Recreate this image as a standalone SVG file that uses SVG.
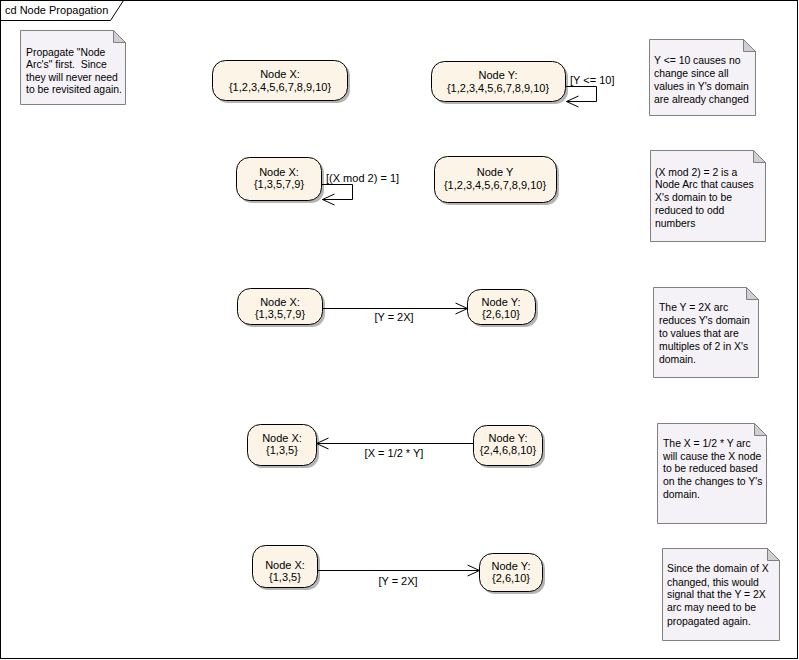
<svg xmlns="http://www.w3.org/2000/svg" width="799" height="660" viewBox="0 0 799 660">
<defs>
<style>
text{font-family:"Liberation Sans",Arial,sans-serif;font-size:11px;fill:#000;white-space:pre}
.c{text-anchor:middle}
.nt text{font-size:10.4px}
.node{fill:#FBF4E7;stroke:#000;stroke-width:1}
.shadow{fill:#B4B4B4}
.note{fill:#F4F2F6;stroke:#808080;stroke-width:1}
.fold{fill:#D0CED2;stroke:#808080;stroke-width:1}
.conn{fill:none;stroke:#000;stroke-width:1}
</style>
<marker id="arr" markerUnits="userSpaceOnUse" markerWidth="14" markerHeight="12" refX="12" refY="5.5" orient="auto" overflow="visible">
<path d="M0,0 L12,5.5 L0,11" fill="none" stroke="#000" stroke-width="1"/>
</marker>
</defs>
<rect width="799" height="660" fill="#fff"/>
<g id="frame">
<rect x="0.5" y="0.5" width="797" height="658" fill="none" stroke="#000"/>
<path d="M0.5,20.5 H110.5 L123.5,0.5" fill="none" stroke="#000"/>
<text x="5" y="14">cd Node Propagation</text>
</g>
<g id="note1" class="nt">
<path class="note" d="M20.5,30.5 H113.5 L125.5,42.5 V104.5 H20.5 Z"/>
<path class="fold" d="M113.5,30.5 V42.5 H125.5 Z"/>
<text x="26" y="56">Propagate "Node</text>
<text x="26" y="68">Arc's" first.  Since</text>
<text x="26" y="81">they will never need</text>
<text x="26" y="93">to be revisited again.</text>
</g>
<g id="note2" class="nt">
<path class="note" d="M649.5,39.5 H743.5 L755.5,51.5 V115.5 H649.5 Z"/>
<path class="fold" d="M743.5,39.5 V51.5 H755.5 Z"/>
<text x="654" y="64">Y &lt;= 10 causes no</text>
<text x="654" y="77">change since all</text>
<text x="654" y="90">values in Y's domain</text>
<text x="654" y="103">are already changed</text>
</g>
<g id="note3" class="nt">
<path class="note" d="M650.5,150.5 H753.5 L765.5,162.5 V241.5 H650.5 Z"/>
<path class="fold" d="M753.5,150.5 V162.5 H765.5 Z"/>
<text x="655" y="176">(X mod 2) = 2 is a</text>
<text x="655" y="188">Node Arc that causes</text>
<text x="655" y="201">X's domain to be</text>
<text x="655" y="214">reduced to odd</text>
<text x="655" y="227">numbers</text>
</g>
<g id="note4" class="nt">
<path class="note" d="M653.5,287.5 H746.5 L758.5,299.5 V377.5 H653.5 Z"/>
<path class="fold" d="M746.5,287.5 V299.5 H758.5 Z"/>
<text x="659" y="311">The Y = 2X arc</text>
<text x="659" y="324">reduces Y's domain</text>
<text x="659" y="337">to values that are</text>
<text x="659" y="350">multiples of 2 in X's</text>
<text x="659" y="363">domain.</text>
</g>
<g id="note5" class="nt">
<path class="note" d="M657.5,423.5 H754.5 L766.5,435.5 V523.5 H657.5 Z"/>
<path class="fold" d="M754.5,423.5 V435.5 H766.5 Z"/>
<text x="663" y="447">The X = 1/2 * Y arc</text>
<text x="663" y="460">will cause the X node</text>
<text x="663" y="472">to be reduced based</text>
<text x="663" y="485">on the changes to Y's</text>
<text x="663" y="498">domain.</text>
</g>
<g id="note6" class="nt">
<path class="note" d="M662.5,548.5 H767.5 L779.5,560.5 V640.5 H662.5 Z"/>
<path class="fold" d="M767.5,548.5 V560.5 H779.5 Z"/>
<text x="667" y="572">Since the domain of X</text>
<text x="667" y="586">changed, this would</text>
<text x="667" y="598">signal that the Y = 2X</text>
<text x="667" y="611">arc may need to be</text>
<text x="667" y="625">propagated again.</text>
</g>
<g id="nodeX1">
<rect class="shadow" x="215" y="63" width="135" height="40" rx="13"/>
<rect class="node" x="212.5" y="60.5" width="135" height="40" rx="13"/>
<text class="c" x="280" y="78">Node X:</text>
<text class="c" x="280" y="91">{1,2,3,4,5,6,7,8,9,10}</text>
</g>
<g id="nodeY1">
<rect class="shadow" x="434" y="64" width="134" height="40" rx="13"/>
<rect class="node" x="431.5" y="61.5" width="134" height="40" rx="13"/>
<text class="c" x="498" y="79">Node Y:</text>
<text class="c" x="498" y="92">{1,2,3,4,5,6,7,8,9,10}</text>
</g>
<g id="nodeX2">
<rect class="shadow" x="239" y="160" width="85" height="43" rx="13"/>
<rect class="node" x="236.5" y="157.5" width="85" height="43" rx="13"/>
<text class="c" x="279" y="176">Node X:</text>
<text class="c" x="279" y="188">{1,3,5,7,9}</text>
</g>
<g id="nodeY2">
<rect class="shadow" x="437" y="159" width="122" height="46" rx="13"/>
<rect class="node" x="434.5" y="156.5" width="122" height="46" rx="13"/>
<text class="c" x="495" y="176">Node Y</text>
<text class="c" x="495" y="189">{1,2,3,4,5,6,7,8,9,10}</text>
</g>
<g id="nodeX3">
<rect class="shadow" x="240" y="291" width="85" height="36" rx="13"/>
<rect class="node" x="237.5" y="288.5" width="85" height="36" rx="13"/>
<text class="c" x="280" y="306">Node X:</text>
<text class="c" x="280" y="318">{1,3,5,7,9}</text>
</g>
<g id="nodeY3">
<rect class="shadow" x="470" y="292" width="68" height="35" rx="13"/>
<rect class="node" x="467.5" y="289.5" width="68" height="35" rx="13"/>
<text class="c" x="501" y="306">Node Y:</text>
<text class="c" x="501" y="318">{2,6,10}</text>
</g>
<g id="nodeX4">
<rect class="shadow" x="250" y="427" width="69" height="41" rx="13"/>
<rect class="node" x="247.5" y="424.5" width="69" height="41" rx="13"/>
<text class="c" x="282" y="442">Node X:</text>
<text class="c" x="282" y="454">{1,3,5}</text>
</g>
<g id="nodeY4">
<rect class="shadow" x="476" y="428" width="69" height="40" rx="13"/>
<rect class="node" x="473.5" y="425.5" width="69" height="40" rx="13"/>
<text class="c" x="508" y="442">Node Y:</text>
<text class="c" x="508" y="454">{2,4,6,8,10}</text>
</g>
<g id="nodeX5">
<rect class="shadow" x="255" y="548" width="65" height="42" rx="13"/>
<rect class="node" x="252.5" y="545.5" width="65" height="42" rx="13"/>
<text class="c" x="285" y="569">Node X:</text>
<text class="c" x="285" y="581">{1,3,5}</text>
</g>
<g id="nodeY5">
<rect class="shadow" x="482" y="556" width="63" height="38" rx="13"/>
<rect class="node" x="479.5" y="553.5" width="63" height="38" rx="13"/>
<text class="c" x="511" y="570">Node Y:</text>
<text class="c" x="511" y="582">{2,6,10}</text>
</g>
<g id="connectors">
<path class="conn" d="M565.5,86.5 H596.5 V101.5 H566.5" marker-end="url(#arr)"/>
<text x="570" y="84">[Y &lt;= 10]</text>
<path class="conn" d="M321.5,184.5 H352.5 V199.5 H322.5" marker-end="url(#arr)"/>
<text x="326" y="182">[(X mod 2) = 1]</text>
<path class="conn" d="M322.5,308.5 H467.5" marker-end="url(#arr)"/>
<text class="c" x="394" y="321">[Y = 2X]</text>
<path class="conn" d="M473.5,443.5 H316.5" marker-end="url(#arr)"/>
<text class="c" x="394" y="457">[X = 1/2 * Y]</text>
<path class="conn" d="M317.5,570.5 H479.5" marker-end="url(#arr)"/>
<text class="c" x="398" y="585">[Y = 2X]</text>
</g>
</svg>
